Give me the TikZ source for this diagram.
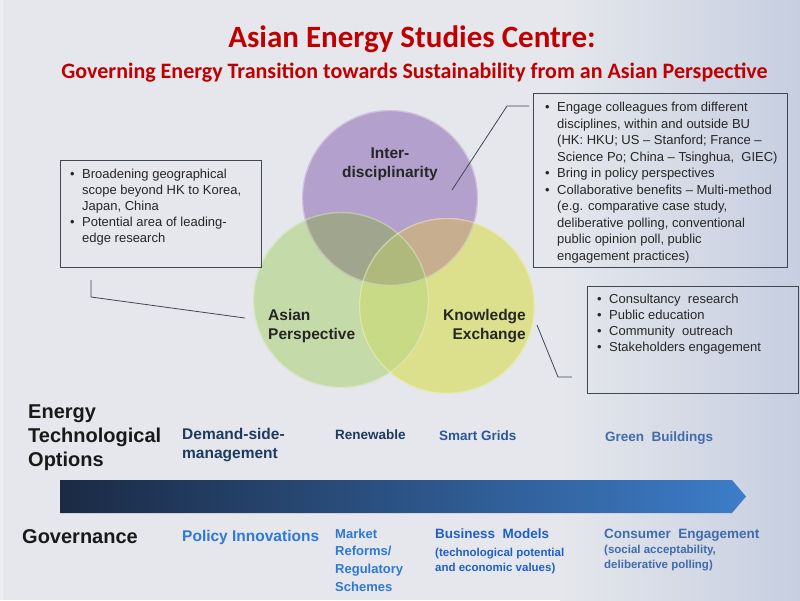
\documentclass[tikz,border=0pt]{standalone}
\usepackage{fontspec}
\setmainfont{Liberation Sans}
\newfontfamily\titlefont{Carlito}
\definecolor{bg}{HTML}{E5E7EC}
\definecolor{bgR}{HTML}{C6CEE0}
\definecolor{colP}{HTML}{B4A0CC}
\definecolor{colG}{HTML}{C4DAA8}
\definecolor{colY}{HTML}{DCE08C}
\definecolor{colPG}{HTML}{A0A68E}
\definecolor{colPY}{HTML}{C6AE8E}
\definecolor{colGY}{HTML}{C8DA86}
\definecolor{colPGY}{HTML}{B0B97C}
\definecolor{titlered}{HTML}{C00000}
\definecolor{navy}{HTML}{1F3A5F}
\definecolor{smartc}{HTML}{2B5797}
\definecolor{steel}{HTML}{416CAC}
\definecolor{bright}{HTML}{2E78D6}
\definecolor{busc}{HTML}{1F60C8}
\definecolor{arrL}{HTML}{1B2A44}
\definecolor{arrR}{HTML}{3D7DC8}
\definecolor{boxline}{HTML}{404850}
\newcommand\bitem[1]{\par\hangindent=12pt\hangafter=1\noindent\makebox[12pt][l]{\textbullet}#1}
\newcommand\blist[2]{\vtop{\hsize=#1\parindent=0pt\rightskip=0pt plus 1fil\parfillskip=0pt plus 1fil #2\par}}
\newcommand\linesl[1]{\begin{tabular}[t]{@{}l@{}}#1\end{tabular}}
\newcommand\linesc[1]{\begin{tabular}[t]{@{}c@{}}#1\end{tabular}}
\newcommand\linesr[1]{\begin{tabular}[t]{@{}r@{}}#1\end{tabular}}
\tikzset{
  infobox/.style={draw=boxline, line width=0.8pt, anchor=north west, inner sep=0pt},
  boxtext/.style={anchor=base west, inner sep=0pt, font=\fontsize{13}{16}\selectfont, text=black!85},
  conn/.style={draw=boxline, line width=0.8pt},
  circlabel/.style={inner sep=0pt, font=\fontsize{15.5}{19}\selectfont\bfseries, text=black!85},
  rowhead/.style={anchor=base west, inner sep=0pt, font=\fontsize{20}{24}\selectfont\bfseries, text=black!90},
  opt/.style={anchor=base west, inner sep=0pt, font=\fontsize{13.5}{18}\selectfont\bfseries},
  sub/.style={anchor=base west, inner sep=0pt, font=\fontsize{11.5}{15}\selectfont\bfseries},
  venn/.style={circle, minimum size=176pt, inner sep=0pt}
}
\begin{document}
\begin{tikzpicture}[x=1pt,y=-1pt]
\useasboundingbox (0,0) rectangle (800,600);
% background
\fill[bg] (0,0) rectangle (800,600);
\shade[left color=bg, right color=bgR] (560,0) rectangle (800,600);
\fill[white, opacity=0.3] (0,0) rectangle (3,600);
% title
\node[inner sep=0pt, anchor=base, font=\titlefont\bfseries\fontsize{31}{36}\selectfont, text=titlered] (title) at (412,47) {Asian Energy Studies Centre:};
\node[inner sep=0pt, anchor=base, font=\titlefont\bfseries\fontsize{22}{26}\selectfont, text=titlered] (subtitle) at (414.5,78) {Governing Energy Transition towards Sustainability from an Asian Perspective};
% venn circles
\node[venn] (P) at (390,198) {};
\node[venn] (G) at (341,300) {};
\node[venn] (Y) at (447,306) {};
\def\R{88pt}
\fill[colP] (P.center) circle[radius=\R];
\fill[colG] (G.center) circle[radius=\R];
\fill[colY] (Y.center) circle[radius=\R];
\begin{scope}
  \clip (P.center) circle[radius=\R];
  \fill[colPG] (G.center) circle[radius=\R];
  \fill[colPY] (Y.center) circle[radius=\R];
\end{scope}
\begin{scope}
  \clip (G.center) circle[radius=\R];
  \fill[colGY] (Y.center) circle[radius=\R];
  \clip (P.center) circle[radius=\R];
  \fill[colPGY] (Y.center) circle[radius=\R];
\end{scope}
\draw[white, opacity=0.35, line width=1.2pt] (P.center) circle[radius=\R-0.6pt];
\draw[white, opacity=0.35, line width=1.2pt] (G.center) circle[radius=\R-0.6pt];
\draw[white, opacity=0.35, line width=1.2pt] (Y.center) circle[radius=\R-0.6pt];
% circle labels
\node[circlabel, anchor=base] (lP) at (390,158) {\linesc{Inter-\\disciplinarity}};
\node[circlabel, anchor=base west] (lG) at (268,320) {\linesl{Asian\\Perspective}};
\node[circlabel, anchor=base east] (lY) at (526,320) {\linesr{Knowledge\\Exchange}};
% boxes
\node[infobox, minimum width=201pt, minimum height=107pt] (lbox) at (60,160) {};
\node[infobox, minimum width=254pt, minimum height=174pt] (rbox) at (533,93) {};
\node[infobox, minimum width=211pt, minimum height=107pt] (kbox) at (587,286) {};
\node[boxtext] (ltext) at (70,178) {\blist{185pt}{\bitem{Broadening geographical\newline scope beyond HK to Korea,\newline Japan, China}\bitem{Potential area of leading-\newline edge research}}};
\node[boxtext, font=\fontsize{13}{16.5}\selectfont] (rtext) at (545,111.5) {\blist{240pt}{\bitem{Engage colleagues from different\newline disciplines, within and outside BU\newline (HK: HKU; US -- Stanford; France --\newline Science Po; China -- Tsinghua,\ \ GIEC)}\bitem{Bring in policy perspectives}\bitem{Collaborative benefits -- Multi-method\newline (e.g. comparative case study,\newline deliberative polling, conventional\newline public opinion poll, public\newline engagement practices)}}};
\node[boxtext] (ktext) at (597,303) {\blist{195pt}{\bitem{Consultancy\ \ research}\bitem{Public education}\bitem{Community\ \ outreach}\bitem{Stakeholders engagement}}};
% connectors
\coordinate (l1) at (91,280);
\coordinate (l2) at (91,297);
\coordinate (l3) at (245,318);
\draw[conn] (l1) -- (l2) -- (l3);
\coordinate (r1) at (452,190);
\coordinate (r2) at (507,106);
\coordinate (r3) at (529,106);
\draw[conn] (r1) -- (r2) -- (r3);
\coordinate (k1) at (537,325);
\coordinate (k2) at (558,377);
\coordinate (k3) at (572,377);
\draw[conn] (k1) -- (k2) -- (k3);
% energy options row
\node[rowhead] (eto) at (28,418) {\linesl{Energy\\Technological\\Options}};
\node[opt, text=navy, font=\fontsize{15.5}{19.5}\selectfont\bfseries] (dsm) at (182,439) {\linesl{Demand-side-\\management}};
\node[opt, text=navy] (ren) at (335,439) {Renewable};
\node[opt, text=smartc] (sg) at (439,440) {Smart Grids};
\node[opt, text=steel] (gb) at (605,441) {Green\ \ Buildings};
% arrow
\shade[left color=arrL, right color=arrR] (60,480) -- (732,480) -- (746,496.5) -- (732,513) -- (60,513) -- cycle;
% governance row
\node[rowhead] (gov) at (22,543) {Governance};
\node[opt, text=bright, font=\fontsize{15.5}{19}\selectfont\bfseries] (pi) at (182,541) {Policy Innovations};
\node[opt, text=bright, font=\fontsize{13}{17.7}\selectfont\bfseries] (mr) at (335,538) {\linesl{Market\\Reforms/\\Regulatory\\Schemes}};
\node[opt, text=busc] (bm) at (435,538) {Business\ \ Models};
\node[sub, text=busc] (bms) at (435,556) {\linesl{(technological potential\\and economic values)}};
\node[opt, text=steel] (ce) at (604,538) {Consumer\ \ Engagement};
\node[sub, text=steel] (ces) at (604,553) {\linesl{(social acceptability,\\deliberative polling)}};
\end{tikzpicture}
\end{document}
